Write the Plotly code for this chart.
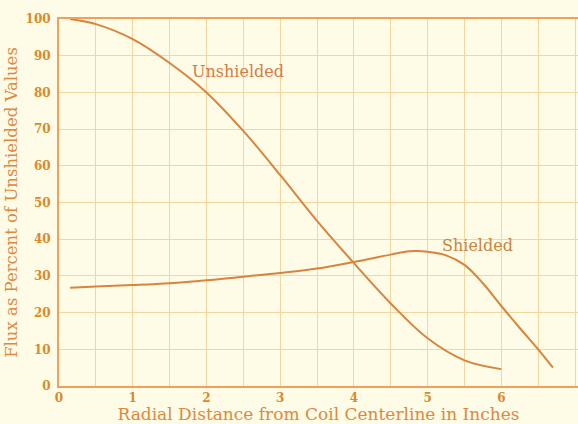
import plotly.graph_objects as go

unshielded_x = [0.15, 0.5, 1, 1.5, 2, 2.5, 3, 3.5, 4, 4.5, 5, 5.5, 6]
unshielded_y = [100, 98.6, 94.5, 88, 80, 69.5, 57.5, 45, 33.5, 22.5, 13, 7, 4.6]

shielded_x = [0.15, 0.5, 1, 1.5, 2, 2.5, 3, 3.5, 4, 4.5, 4.75, 5, 5.25, 5.5, 5.75, 6, 6.25, 6.5, 6.7]
shielded_y = [26.8, 27.1, 27.5, 28, 28.8, 29.8, 30.8, 32, 33.8, 35.8, 36.7, 36.6, 35.6, 33, 28, 21.8, 15.8, 10, 5]

x_ticks = [0, 1, 2, 3, 4, 5, 6, 7]
y_ticks = [0, 10, 20, 30, 40, 50, 60, 70, 80, 90, 100]

curve_color = "#d8843e"
text_color = "#e0883e"
tick_color = "#d98a2e"
grid_color = "#f3d6a0"
axis_color = "#f0a05a"
bg = "#fefce6"

fig = go.Figure()
fig.add_trace(go.Scatter(x=unshielded_x, y=unshielded_y, mode="lines",
                         line=dict(color=curve_color, width=2, shape="spline", smoothing=1.0),
                         showlegend=False, hoverinfo="skip"))
fig.add_trace(go.Scatter(x=shielded_x, y=shielded_y, mode="lines",
                         line=dict(color=curve_color, width=2, shape="spline", smoothing=1.0),
                         showlegend=False, hoverinfo="skip"))

fig.add_annotation(x=2.43, y=85.6, text="Unshielded", showarrow=False,
                   font=dict(family="DejaVu Serif", size=16, color="#d67a45"))
fig.add_annotation(x=5.67, y=38.2, text="Shielded", showarrow=False,
                   font=dict(family="DejaVu Serif", size=16, color="#c8843e"))

fig.update_layout(
    width=578, height=424,
    margin=dict(l=59, r=0, t=19, b=38),
    paper_bgcolor=bg, plot_bgcolor=bg,
    xaxis=dict(range=[0, 7.04], tickvals=x_ticks, ticktext=[str(v) for v in x_ticks],
               showgrid=True, gridcolor=grid_color, gridwidth=1.2,
               minor=dict(dtick=0.5, showgrid=True, gridcolor=grid_color, gridwidth=1.2),
               showline=True, linecolor=axis_color, linewidth=2, mirror=True,
               zeroline=False, ticks="", ticklen=0,
               tickfont=dict(family="DejaVu Serif", size=12, color=tick_color, weight="bold"),
               title=dict(text="Radial Distance from Coil Centerline in Inches", standoff=2,
                          font=dict(family="DejaVu Serif", size=17, color=text_color))),
    yaxis=dict(range=[0, 100], tickvals=y_ticks, ticktext=[str(v) for v in y_ticks],
               showgrid=True, gridcolor=grid_color, gridwidth=1.2,
               showline=True, linecolor=axis_color, linewidth=2,
               zeroline=False, ticks="", ticklen=0, ticklabelstandoff=4,
               tickfont=dict(family="DejaVu Serif", size=12, color=tick_color, weight="bold"),
               title=dict(text="Flux as Percent of Unshielded Values", standoff=4,
                          font=dict(family="DejaVu Serif", size=16.5, color=text_color))),
)

fig.write_html("out.html", config={"displayModeBar": False},
               post_script="document.body.style.margin='0';document.body.style.overflow='hidden';")
